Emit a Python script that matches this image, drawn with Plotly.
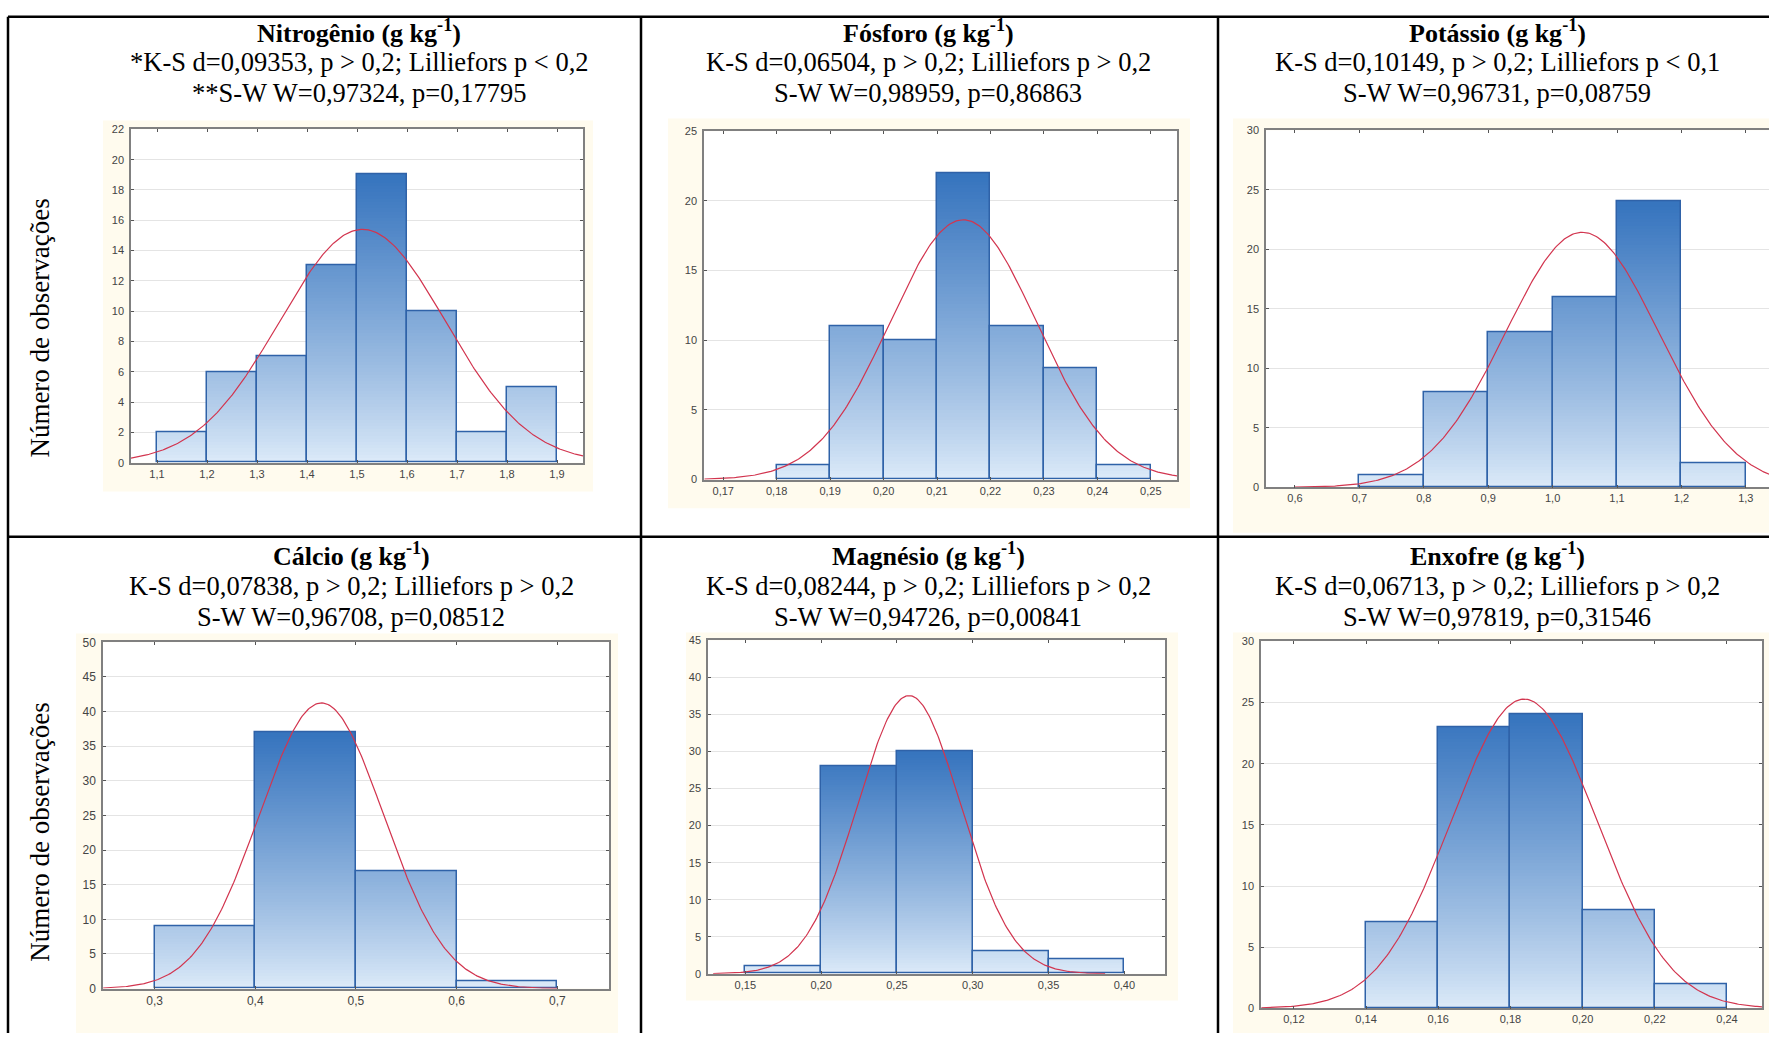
import numpy as np
import plotly.graph_objects as go

W, H = 1769, 1040

# ---------------- data ----------------
names = ["Nitrogênio", "Fósforo", "Potássio", "Cálcio", "Magnésio", "Enxofre"]
ks_text = [
    "*K-S d=0,09353, p > 0,2; Lilliefors p < 0,2",
    "K-S d=0,06504, p > 0,2; Lilliefors p > 0,2",
    "K-S d=0,10149, p > 0,2; Lilliefors p < 0,1",
    "K-S d=0,07838, p > 0,2; Lilliefors p > 0,2",
    "K-S d=0,08244, p > 0,2; Lilliefors p > 0,2",
    "K-S d=0,06713, p > 0,2; Lilliefors p > 0,2",
]
sw_text = [
    "**S-W W=0,97324, p=0,17795",
    "S-W W=0,98959, p=0,86863",
    "S-W W=0,96731, p=0,08759",
    "S-W W=0,96708, p=0,08512",
    "S-W W=0,94726, p=0,00841",
    "S-W W=0,97819, p=0,31546",
]
y_title = "Número de observações"

n_edges = [1.1, 1.2, 1.3, 1.4, 1.5, 1.6, 1.7, 1.8, 1.9]
n_counts = [2, 6, 7, 13, 19, 10, 2, 5]
p_edges = [0.18, 0.19, 0.20, 0.21, 0.22, 0.23, 0.24, 0.25]
p_counts = [1, 11, 10, 22, 11, 8, 1]
k_edges = [0.7, 0.8, 0.9, 1.0, 1.1, 1.2, 1.3]
k_counts = [1, 8, 13, 16, 24, 2]
ca_edges = [0.3, 0.4, 0.5, 0.6, 0.7]
ca_counts = [9, 37, 17, 1]
mg_edges = [0.15, 0.20, 0.25, 0.30, 0.35, 0.40]
mg_counts = [1, 28, 30, 3, 2]
s_edges = [0.14, 0.16, 0.18, 0.20, 0.22, 0.24]
s_counts = [7, 23, 24, 8, 2]

n_obs = 64
fit_mean = [1.511, 0.2149, 1.046, 0.4657, 0.258, 0.1838]
fit_sd = [0.1658, 0.01369, 0.1191, 0.0619, 0.0340, 0.0202]
curve_lo = [1.048, 0.1665, 0.600, 0.2490, 0.1288, 0.1110]
curve_hi = [1.952, 0.2549, 1.340, 0.7000, 0.3873, 0.2497]

n_xticks = [1.1, 1.2, 1.3, 1.4, 1.5, 1.6, 1.7, 1.8, 1.9]
n_xlabels = ["1,1", "1,2", "1,3", "1,4", "1,5", "1,6", "1,7", "1,8", "1,9"]
p_xticks = [0.17, 0.18, 0.19, 0.20, 0.21, 0.22, 0.23, 0.24, 0.25]
p_xlabels = ["0,17", "0,18", "0,19", "0,20", "0,21", "0,22", "0,23", "0,24", "0,25"]
k_xticks = [0.6, 0.7, 0.8, 0.9, 1.0, 1.1, 1.2, 1.3]
k_xlabels = ["0,6", "0,7", "0,8", "0,9", "1,0", "1,1", "1,2", "1,3"]
ca_xticks = [0.3, 0.4, 0.5, 0.6, 0.7]
ca_xlabels = ["0,3", "0,4", "0,5", "0,6", "0,7"]
mg_xticks = [0.15, 0.20, 0.25, 0.30, 0.35, 0.40]
mg_xlabels = ["0,15", "0,20", "0,25", "0,30", "0,35", "0,40"]
s_xticks = [0.12, 0.14, 0.16, 0.18, 0.20, 0.22, 0.24]
s_xlabels = ["0,12", "0,14", "0,16", "0,18", "0,20", "0,22", "0,24"]

n_yticks = [0, 2, 4, 6, 8, 10, 12, 14, 16, 18, 20, 22]
p_yticks = [0, 5, 10, 15, 20, 25]
k_yticks = [0, 5, 10, 15, 20, 25, 30]
ca_yticks = [0, 5, 10, 15, 20, 25, 30, 35, 40, 45, 50]
mg_yticks = [0, 5, 10, 15, 20, 25, 30, 35, 40, 45]
s_yticks = [0, 5, 10, 15, 20, 25, 30]

edges_all = [n_edges, p_edges, k_edges, ca_edges, mg_edges, s_edges]
counts_all = [n_counts, p_counts, k_counts, ca_counts, mg_counts, s_counts]
xticks_all = [n_xticks, p_xticks, k_xticks, ca_xticks, mg_xticks, s_xticks]
xlabels_all = [n_xlabels, p_xlabels, k_xlabels, ca_xlabels, mg_xlabels, s_xlabels]
yticks_all = [n_yticks, p_yticks, k_yticks, ca_yticks, mg_yticks, s_yticks]

# ---------------- layout geometry (pixels) ----------------
plot_px = [
    (131, 583, 124, 462),
    (704, 1177, 126, 479),
    (1266, 1769, 125, 487),
    (103, 609, 644, 995),
    (708, 1165, 642, 980),
    (1261, 1762, 643, 1015),
]
x_ranges = [
    (1.048, 1.952),
    (0.1664, 0.2549),
    (0.555, 1.336),
    (0.2488, 0.7513),
    (0.1254, 0.4268),
    (0.1109, 0.2497),
]
cream_px = [
    (103, 593, 115, 491),
    (668, 1190, 113, 508),
    (1233, 1769, 113, 533),
    (76, 618, 635, 1040),
    (686, 1178, 634, 1007),
    (1233, 1769, 634, 1040),
]
tick_size = [11, 11, 11, 12, 11, 11]
title_x = [359, 928, 1497, 351, 928, 1497]
title_y = [(25, 56, 87), (25, 56, 87), (25, 56, 87), (555, 587, 618), (555, 587, 618), (555, 587, 618)]

DARK = np.array([54, 116, 190])
LIGHT = np.array([224, 237, 250])


def grad_color(t):
    t = min(max(t, 0.0), 1.0) ** 0.85
    c = LIGHT + (DARK - LIGHT) * t
    return "rgb(%d,%d,%d)" % tuple(int(round(v)) for v in c)


def px2x(p):
    return p / W


def px2y(p):
    return 1 - p / H


fig = go.Figure()
shapes = []
annotations = []
layout_axes = {}

for i in range(6):
    idx = "" if i == 0 else str(i + 1)
    xa, ya = "x" + idx, "y" + idx
    edges = edges_all[i]
    counts = counts_all[i]
    bw = edges[1] - edges[0]
    centers = [(edges[j] + edges[j + 1]) / 2 for j in range(len(counts))]
    cmax = max(counts)

    # gradient-filled bars built from horizontal slices
    nslice = 90
    dy = cmax / nslice
    ov = dy * 0.6
    gx, gbase, gh, gcol = [], [], [], []
    for cx, c in zip(centers, counts):
        k = 0
        while k * dy < c:
            lo = max(0.0, k * dy - ov)
            hi = min(c, (k + 1) * dy)
            gx.append(cx)
            gbase.append(lo)
            gh.append(hi - lo)
            gcol.append(grad_color((k * dy + hi) / 2 / cmax))
            k += 1
    fig.add_trace(go.Bar(
        x=gx, y=gh, base=gbase, width=bw, xaxis=xa, yaxis=ya,
        marker=dict(color=gcol, line=dict(width=0)),
        showlegend=False, hoverinfo="skip",
    ))
    # outlines
    fig.add_trace(go.Bar(
        x=centers, y=counts, width=bw, xaxis=xa, yaxis=ya,
        marker=dict(color="rgba(0,0,0,0)", line=dict(color="#2f62a8", width=1.5)),
        showlegend=False, hoverinfo="skip",
    ))
    # expected normal curve
    xs = np.linspace(curve_lo[i], curve_hi[i], 300)
    ys = n_obs * bw * np.exp(-0.5 * ((xs - fit_mean[i]) / fit_sd[i]) ** 2) / (fit_sd[i] * np.sqrt(2 * np.pi))
    fig.add_trace(go.Scatter(
        x=xs, y=ys, mode="lines", xaxis=xa, yaxis=ya,
        line=dict(color="#d2354f", width=1.2),
        showlegend=False, hoverinfo="skip",
    ))

    x0, x1, y0, y1 = plot_px[i]
    yt = yticks_all[i]
    layout_axes["xaxis" + idx] = dict(
        domain=[px2x(x0), px2x(x1)], anchor=ya, range=list(x_ranges[i]),
        tickmode="array", tickvals=xticks_all[i], ticktext=xlabels_all[i],
        ticks="inside", ticklen=3, tickcolor="#555555",
        showline=True, linecolor="#808080", linewidth=1.5, mirror="ticks",
        showgrid=False, zeroline=False, fixedrange=True,
        tickfont=dict(family="Liberation Sans", size=tick_size[i], color="#444444"),
    )
    layout_axes["yaxis" + idx] = dict(
        domain=[px2y(y1), px2y(y0)], anchor=xa, range=[0, yt[-1]],
        tickmode="array", tickvals=yt, ticktext=[str(v) for v in yt],
        ticks="inside", ticklen=3, tickcolor="#555555",
        showline=True, linecolor="#808080", linewidth=1.5,
        mirror=False if i == 2 else "ticks",
        showgrid=True, gridcolor="#e4e4e4", gridwidth=1, zeroline=False,
        fixedrange=True, ticklabelstandoff=3,
        tickfont=dict(family="Liberation Sans", size=tick_size[i], color="#444444"),
    )

    cx0, cx1, cy0, cy1 = cream_px[i]
    shapes.append(dict(type="rect", xref="paper", yref="paper",
                       x0=px2x(cx0), x1=px2x(cx1), y0=px2y(cy1), y1=px2y(cy0),
                       fillcolor="#fffbee", line=dict(width=0), layer="below"))
    # white plot area on top of the cream background
    shapes.append(dict(type="rect", xref="paper", yref="paper",
                       x0=px2x(x0), x1=px2x(x1), y0=px2y(y1), y1=px2y(y0),
                       fillcolor="white", line=dict(width=0), layer="below"))

    ty = title_y[i]
    annotations.append(dict(text="<b>%s (g kg<sup>-1</sup>)</b>" % names[i], x=px2x(title_x[i]), y=px2y(ty[0]),
                            xref="paper", yref="paper", xanchor="center", yanchor="middle", showarrow=False,
                            font=dict(family="Liberation Serif", size=26, color="black")))
    annotations.append(dict(text=ks_text[i], x=px2x(title_x[i]), y=px2y(ty[1]),
                            xref="paper", yref="paper", xanchor="center", yanchor="middle", showarrow=False,
                            font=dict(family="Liberation Serif", size=26.5, color="black")))
    annotations.append(dict(text=sw_text[i], x=px2x(title_x[i]), y=px2y(ty[2]),
                            xref="paper", yref="paper", xanchor="center", yanchor="middle", showarrow=False,
                            font=dict(family="Liberation Serif", size=26.5, color="black")))

# y-axis titles
for yc in (326, 837):
    annotations.append(dict(text=y_title, x=px2x(40), y=px2y(yc), xref="paper", yref="paper",
                            xanchor="center", yanchor="middle", showarrow=False, textangle=-90,
                            font=dict(family="Liberation Serif", size=27, color="black")))

# table borders
line_style = dict(color="black", width=2.5)
for (xa0, ya0, xa1, ya1) in [(8, 10, W, 10), (8, 10, 8, H), (641, 10, 641, H), (1218, 10, 1218, H), (8, 537, W, 537)]:
    shapes.append(dict(type="line", xref="paper", yref="paper",
                       x0=px2x(xa0), y0=px2y(ya0), x1=px2x(xa1), y1=px2y(ya1),
                       line=line_style, layer="above"))

fig.update_layout(
    width=W, height=H, margin=dict(l=0, r=0, t=0, b=0),
    paper_bgcolor="white", plot_bgcolor="white",
    barmode="overlay", bargap=0, showlegend=False,
    shapes=shapes, annotations=annotations,
    **layout_axes,
)

fig.write_html("out.html")
